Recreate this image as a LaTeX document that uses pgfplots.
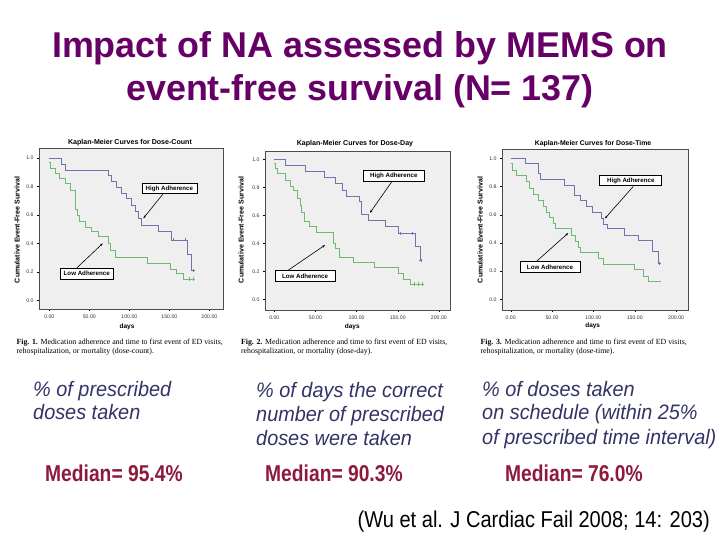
\documentclass[border=0pt]{standalone}
\usepackage{fontspec}
\setmainfont{Liberation Sans}
\newfontfamily\narrowfont[FakeStretch=0.84]{Liberation Sans}
\newfontfamily\citefont[FakeStretch=0.875]{Liberation Sans}
\newfontfamily\itfont[FakeStretch=0.95]{Liberation Sans}
\newfontfamily\tnr{Liberation Serif}
\usepackage{pgfplots}
\pgfplotsset{compat=1.18}
\usetikzlibrary{arrows.meta}
\definecolor{titlepurple}{HTML}{660066}
\definecolor{navytext}{HTML}{333366}
\definecolor{medianred}{HTML}{8B1A3C}
\definecolor{hicol}{HTML}{7272AC}
\definecolor{locol}{HTML}{70BA70}
\definecolor{plotbg}{HTML}{EFEFEF}
\tikzset{
  annbox/.style={draw=black, line width=0.75pt, fill=white, inner sep=1bp,
    font=\fontsize{6.2}{7}\selectfont\bfseries, minimum height=10.5bp},
  annarrow/.style={-{Stealth[length=3bp,width=2.2bp]}, line width=0.6pt},
}
\pgfplotsset{
  kmaxis/.style={
    scale only axis, anchor=south west,
    axis background/.style={fill=plotbg},
    axis line style={gray!60!black, line width=0.4pt},
    xtick={0,50,100,150,200},
    xticklabels={0.00,50.00,100.00,150.00,200.00},
    ytick={0,0.2,0.4,0.6,0.8,1},
    yticklabels={0.0,0.2,0.4,0.6,0.8,1.0},
    tick align=outside, tick pos=left,
    major tick length=2bp,
    tick style={black, line width=0.3pt},
    ticklabel style={font=\fontsize{5.2}{6}\selectfont, text=black!80},
    clip=false,
  },
  hiline/.style={const plot, hicol, line width=0.6pt, mark=none},
  loline/.style={const plot, locol, line width=0.6pt, mark=none},
  cens/.style={only marks, mark=+, mark size=1.6pt, mark options={line width=0.4pt}},
}
\begin{document}
\begin{tikzpicture}[x=1bp,y=1bp]
\path[use as bounding box, fill=white] (0,0) rectangle (720,540);

% Title
\node[anchor=base, font=\fontsize{36}{43}\selectfont\bfseries, text=titlepurple] at (360,482) {Impact of NA assessed by MEMS on};
\node[anchor=base, font=\fontsize{36}{43}\selectfont\bfseries, text=titlepurple] at (360,439) {event-free survival (N= 137)};

% ---------- Plot 1: Dose-Count ----------
\begin{axis}[kmaxis, at={(39bp,231bp)}, width=184bp, height=161bp,
  xmin=-12.9, xmax=217, ymin=-0.06, ymax=1.069]
\addplot[hiline] coordinates {(0,1.0) (15.5,0.958) (19.6,0.916) (73.8,0.876) (78,0.834) (84,0.794) (90.5,0.752) (96.7,0.713) (103,0.67) (108,0.625) (111,0.573) (115.5,0.525) (136,0.484) (153,0.425) (172,0.327) (178,0.21) (180,0.21)};
\addplot[loline] coordinates {(0,0.97) (1.5,0.93) (7,0.89) (13,0.857) (19.6,0.818) (26,0.77) (32,0.70) (33,0.64) (35.4,0.596) (38,0.556) (44.6,0.514) (53,0.484) (61,0.449) (74,0.40) (76,0.35) (82,0.30) (122,0.26) (151,0.22) (159,0.19) (167.5,0.15) (180,0.15)};
\addplot[cens, hicol] coordinates {(155,0.425) (170,0.425) (180,0.21)};
\addplot[cens, locol] coordinates {(175,0.15) (180,0.15)};
\node[annbox, minimum width=55bp] at (axis cs:150,0.785) {High Adherence};
\draw[annarrow] (axis cs:142.5,0.75) -- (axis cs:117.5,0.576);
\node[annbox, minimum width=53bp] at (axis cs:46.7,0.187) {Low Adherence};
\draw[annarrow] (axis cs:34,0.226) -- (axis cs:66.7,0.40);
\end{axis}
\node[font=\fontsize{7.1}{8}\selectfont\bfseries] at (130,397.3) {Kaplan-Meier Curves for Dose-Count};
\node[rotate=90, font=\fontsize{7.1}{8}\selectfont\bfseries] at (17,310) {Cumulative Event-Free Survival};
\node[font=\fontsize{6.5}{7}\selectfont\bfseries] at (127,213.3) {days};
\node[anchor=base west, font=\fontsize{7.9}{8}\tnr] at (13,195) {\textbf{Fig. 1.} Medication adherence and time to first event of ED visits,};
\node[anchor=base west, font=\fontsize{7.9}{8}\tnr] at (13,186.5) {rehospitalization, or mortality (dose-count).};

% ---------- Plot 2: Dose-Day ----------
\begin{axis}[kmaxis, at={(265bp,230bp)}, width=185bp, height=159bp,
  xmin=-11.3, xmax=213.5, ymin=-0.076, ymax=1.061]
\addplot[hiline] coordinates {(0,1) (13.8,0.96) (38,0.917) (60.7,0.876) (73.7,0.833) (82.6,0.78) (88,0.74) (103,0.70) (106,0.607) (114,0.567) (134.5,0.52) (150.7,0.47) (171,0.376) (177,0.28) (178,0.28)};
\addplot[loline] coordinates {(0,0.97) (1.6,0.935) (4,0.90) (13,0.852) (19,0.81) (23,0.78) (28,0.72) (31,0.674) (33,0.626) (36,0.555) (42,0.519) (51,0.483) (71.7,0.40) (73.7,0.364) (78.6,0.30) (96,0.262) (121.5,0.226) (150.7,0.186) (156.7,0.145) (165,0.11) (180,0.11)};
\addplot[cens, hicol] coordinates {(153,0.47) (167,0.47) (178,0.28)};
\addplot[cens, locol] coordinates {(170,0.11) (175,0.11) (180,0.11)};
\node[annbox, minimum width=61bp] at (axis cs:145.2,0.882) {High Adherence};
\draw[annarrow] (axis cs:142.6,0.84) -- (axis cs:116.3,0.619);
\node[annbox, minimum width=60bp] at (axis cs:37.3,0.168) {Low Adherence};
\draw[annarrow] (axis cs:17,0.209) -- (axis cs:61.6,0.388);
\end{axis}
\node[font=\fontsize{7.1}{8}\selectfont\bfseries] at (355,396) {Kaplan-Meier Curves for Dose-Day};
\node[rotate=90, font=\fontsize{7.1}{8}\selectfont\bfseries] at (241,310) {Cumulative Event-Free Survival};
\node[font=\fontsize{6.5}{7}\selectfont\bfseries] at (352.3,213.3) {days};
\node[anchor=base west, font=\fontsize{7.9}{8}\tnr] at (237.5,195) {\textbf{Fig. 2.} Medication adherence and time to first event of ED visits,};
\node[anchor=base west, font=\fontsize{7.9}{8}\tnr] at (237.5,186.5) {rehospitalization, or mortality (dose-day).};

% ---------- Plot 3: Dose-Time ----------
\begin{axis}[kmaxis, at={(502bp,230bp)}, width=186bp, height=161bp,
  xmin=-10.5, xmax=214.4, ymin=-0.076, ymax=1.066]
\addplot[hiline] coordinates {(0,1) (17.3,0.964) (33.5,0.894) (35.5,0.851) (64.5,0.806) (76.6,0.74) (84,0.70) (91,0.657) (99,0.617) (110,0.574) (112,0.534) (117,0.50) (137,0.456) (154,0.42) (171.7,0.338) (178.5,0.255) (180,0.255)};
\addplot[loline] coordinates {(0,0.964) (2.4,0.917) (7,0.877) (19,0.835) (23,0.79) (27,0.745) (33.5,0.70) (39.5,0.66) (42.7,0.62) (46.7,0.58) (51.6,0.54) (53.6,0.50) (73.7,0.455) (77.8,0.41) (82,0.37) (84,0.33) (106,0.29) (112,0.25) (150,0.21) (160,0.165) (166,0.125) (182,0.125)};
\addplot[cens, hicol] coordinates {(180,0.255)};
\node[annbox, minimum width=62bp] at (axis cs:145.2,0.843) {High Adherence};
\draw[annarrow] (axis cs:148.2,0.80) -- (axis cs:114,0.574);
\node[annbox, minimum width=60bp] at (axis cs:47.5,0.23) {Low Adherence};
\draw[annarrow] (axis cs:31.4,0.27) -- (axis cs:69.6,0.47);
\end{axis}
\node[font=\fontsize{6.9}{8}\selectfont\bfseries] at (593,396.7) {Kaplan-Meier Curves for Dose-Time};
\node[rotate=90, font=\fontsize{7.1}{8}\selectfont\bfseries] at (480,310) {Cumulative Event-Free Survival};
\node[font=\fontsize{6.5}{7}\selectfont\bfseries] at (592.7,214) {days};
\node[anchor=base west, font=\fontsize{7.9}{8}\tnr] at (477,195) {\textbf{Fig. 3.} Medication adherence and time to first event of ED visits,};
\node[anchor=base west, font=\fontsize{7.9}{8}\tnr] at (477,186.5) {rehospitalization, or mortality (dose-time).};

% ---------- Descriptions ----------
\begin{scope}[every node/.style={anchor=base west, font=\fontsize{21}{24}\itfont\itshape, text=navytext, inner sep=0pt}]
\node at (33,143) {\% of prescribed};
\node at (33,120) {doses taken};
\node at (256,142) {\% of days the correct};
\node at (256,118) {number of prescribed};
\node at (256,94) {doses were taken};
\node at (482,143) {\% of doses taken};
\node at (482,120) {on schedule (within 25\%};
\node at (482,95) {of prescribed time interval)};
\end{scope}
\begin{scope}[every node/.style={anchor=base west, font=\fontsize{23}{26}\narrowfont\bfseries, text=medianred, inner sep=0pt}]
\node at (45,58) {Median= 95.4\%};
\node at (265,58) {Median= 90.3\%};
\node at (505,58) {Median= 76.0\%};
\end{scope}
\node[anchor=base east, inner sep=0pt, font=\fontsize{23}{26}\citefont] at (710,12) {(Wu et al. J Cardiac Fail 2008; 14: 203)};
\end{tikzpicture}
\end{document}
